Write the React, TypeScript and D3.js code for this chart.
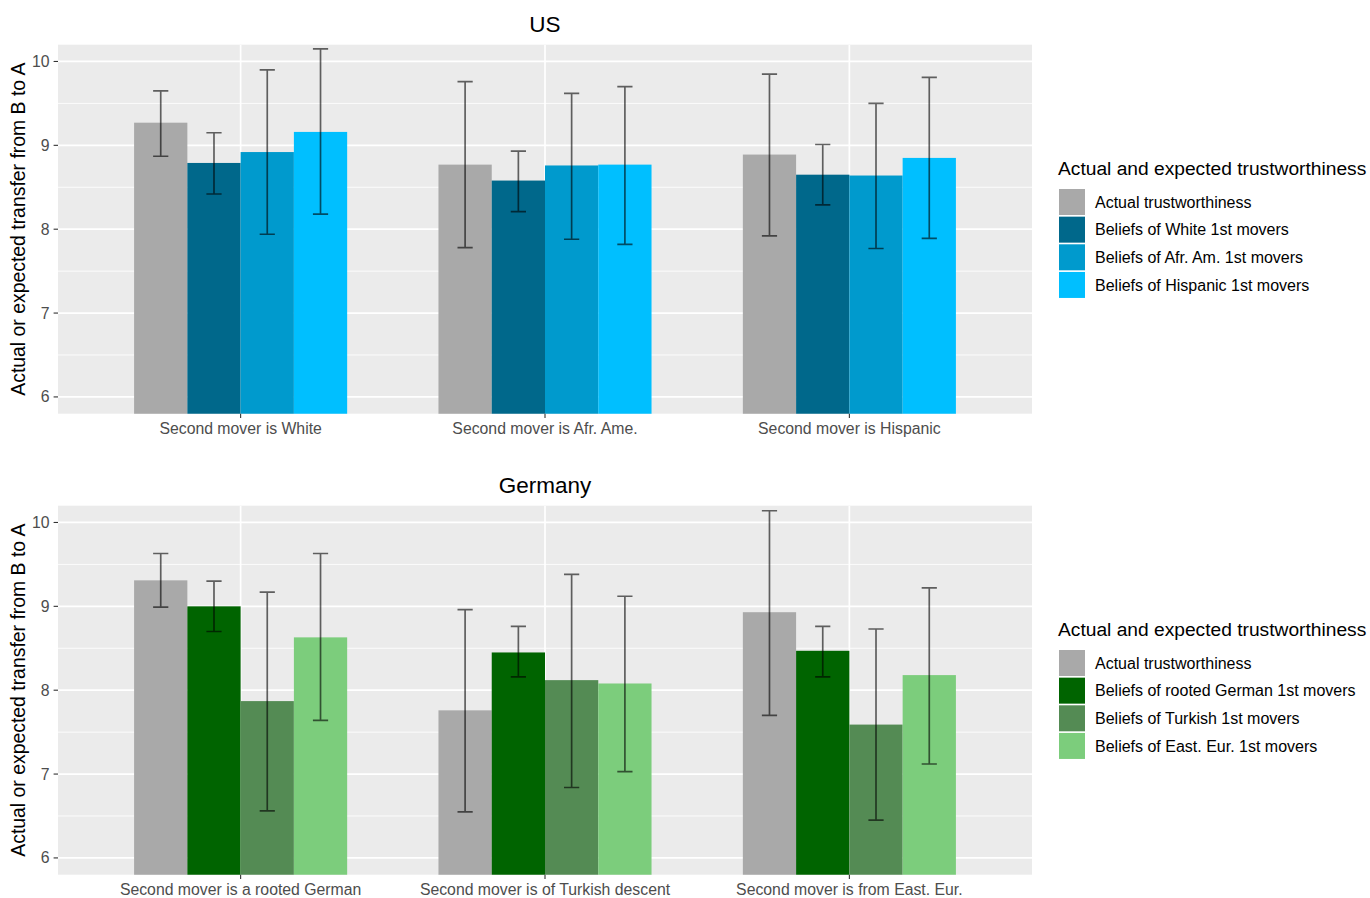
import React from "react";
import * as d3 from "d3";

// ---------- DATA ----------
const usCategories = ["Second mover is White", "Second mover is Afr. Ame.", "Second mover is Hispanic"];
const usSeries = ["Actual trustworthiness", "Beliefs of White 1st movers", "Beliefs of Afr. Am. 1st movers", "Beliefs of Hispanic 1st movers"];
const usColors = ["#A9A9A9", "#00688B", "#009ACD", "#00BFFF"];
const usActual = [9.27, 8.77, 8.89];
const usWhite = [8.79, 8.58, 8.65];
const usAfr = [8.92, 8.76, 8.64];
const usHisp = [9.16, 8.77, 8.85];
const usActualLo = [8.87, 7.78, 7.92];
const usActualHi = [9.65, 9.76, 9.85];
const usWhiteLo = [8.42, 8.21, 8.29];
const usWhiteHi = [9.15, 8.93, 9.01];
const usAfrLo = [7.94, 7.88, 7.77];
const usAfrHi = [9.9, 9.62, 9.5];
const usHispLo = [8.18, 7.82, 7.89];
const usHispHi = [10.15, 9.7, 9.81];

const deCategories = ["Second mover is a rooted German", "Second mover is of Turkish descent", "Second mover is from East. Eur."];
const deSeries = ["Actual trustworthiness", "Beliefs of rooted German 1st movers", "Beliefs of Turkish 1st movers", "Beliefs of East. Eur. 1st movers"];
const deColors = ["#A9A9A9", "#006400", "#548B54", "#7CCD7C"];
const deActual = [9.31, 7.76, 8.93];
const deGerman = [9.0, 8.45, 8.47];
const deTurk = [7.87, 8.12, 7.59];
const deEast = [8.63, 8.08, 8.18];
const deActualLo = [8.99, 6.55, 7.7];
const deActualHi = [9.63, 8.96, 10.14];
const deGermanLo = [8.7, 8.16, 8.16];
const deGermanHi = [9.3, 8.76, 8.76];
const deTurkLo = [6.56, 6.84, 6.45];
const deTurkHi = [9.17, 9.38, 8.73];
const deEastLo = [7.64, 7.03, 7.12];
const deEastHi = [9.63, 9.12, 9.22];

const yTicks = [6, 7, 8, 9, 10];
const yMinor = [6.5, 7.5, 8.5, 9.5];
const yLimits = [6, 10];

const yTitle = "Actual or expected transfer from B to A";
const legendTitle = "Actual and expected trustworthiness";

const FONT = "'Liberation Sans', Arial, Helvetica, sans-serif";

type PanelProps = {
  id: string;
  title: string;
  top: number;
  categories: string[];
  series: string[];
  colors: string[];
  means: number[][];
  lows: number[][];
  highs: number[][];
};

const PL = 58;
const PR = 1032;
const PH = 369;

function Panel({ id, title, top, categories, series, colors, means, lows, highs }: PanelProps) {
  const pTop = top;
  const pBot = top + PH;
  const pad = (yLimits[1] - yLimits[0]) * 0.05;
  const y = d3.scaleLinear().domain([yLimits[0] - pad, yLimits[1] + pad]).range([pBot, pTop]);
  const x = d3.scaleBand<string>().domain(categories).range([PL, PR]).paddingInner(0.3).paddingOuter(0.25);
  const xs = d3.scaleBand<string>().domain(series).range([0, x.bandwidth()]).padding(0);
  const capW = x.step() * 0.05;
  const legX = 1058;
  const legTitleY = top + 129.8;
  const keyTop = top + 144.3;
  const keyStep = 27.65;

  return (
    <g>
      <defs>
        <clipPath id={`clip-${id}`}>
          <rect x={PL} y={pTop} width={PR - PL} height={pBot - pTop} />
        </clipPath>
      </defs>
      <text x={(PL + PR) / 2} y={top - 13} textAnchor="middle" fontSize={22.5} fill="#000" fontFamily={FONT}>
        {title}
      </text>
      <rect x={PL} y={pTop} width={PR - PL} height={pBot - pTop} fill="#EBEBEB" />
      <g clipPath={`url(#clip-${id})`}>
        {yMinor.map((v) => (
          <line key={"mn" + v} x1={PL} x2={PR} y1={y(v)} y2={y(v)} stroke="#fff" strokeWidth={0.85} />
        ))}
        {yTicks.map((v) => (
          <line key={"mj" + v} x1={PL} x2={PR} y1={y(v)} y2={y(v)} stroke="#fff" strokeWidth={1.7} />
        ))}
        {categories.map((c) => (
          <line key={"vx" + c} x1={x(c)! + x.bandwidth() / 2} x2={x(c)! + x.bandwidth() / 2} y1={pTop} y2={pBot} stroke="#fff" strokeWidth={1.7} />
        ))}
        {series.map((s, si) =>
          categories.map((c, ci) => {
            const bx = x(c)! + xs(s)!;
            const v = means[si][ci];
            return (
              <rect key={s + c} x={bx} y={y(v)} width={xs.bandwidth()} height={y(0) - y(v)} fill={colors[si]} />
            );
          })
        )}
        {series.map((s, si) =>
          categories.map((c, ci) => {
            const cx = x(c)! + xs(s)! + xs.bandwidth() / 2;
            const lo = y(lows[si][ci]);
            const hi = y(highs[si][ci]);
            return (
              <g key={"e" + s + c} stroke="rgba(0,0,0,0.6)" strokeWidth={1.7} fill="none">
                <path d={`M${cx - capW / 2},${hi}H${cx + capW / 2}M${cx},${hi}V${lo}M${cx - capW / 2},${lo}H${cx + capW / 2}`} />
              </g>
            );
          })
        )}
      </g>
      {/* y axis */}
      {yTicks.map((v) => (
        <g key={"yt" + v}>
          <line x1={PL - 4.4} x2={PL} y1={y(v)} y2={y(v)} stroke="#333333" strokeWidth={1.1} />
          <text x={PL - 8.5} y={y(v)} dy="0.35em" textAnchor="end" fontSize={15.8} fill="#4D4D4D" fontFamily={FONT}>
            {v}
          </text>
        </g>
      ))}
      {/* x axis */}
      {categories.map((c) => (
        <g key={"xt" + c}>
          <line x1={x(c)! + x.bandwidth() / 2} x2={x(c)! + x.bandwidth() / 2} y1={pBot} y2={pBot + 4.4} stroke="#333333" strokeWidth={1.1} />
          <text x={x(c)! + x.bandwidth() / 2} y={pBot + 20} textAnchor="middle" fontSize={15.8} fill="#4D4D4D" fontFamily={FONT}>
            {c}
          </text>
        </g>
      ))}
      <text
        transform={`translate(24.5,${(pTop + pBot) / 2}) rotate(-90)`}
        textAnchor="middle"
        fontSize={19.4}
        fill="#000"
        fontFamily={FONT}
      >
        {yTitle}
      </text>
      {/* legend */}
      <text x={legX} y={legTitleY} fontSize={19.2} fill="#000" fontFamily={FONT}>
        {legendTitle}
      </text>
      {series.map((s, si) => (
        <g key={"lg" + s}>
          <rect x={1059} y={keyTop + si * keyStep} width={26} height={26} fill={colors[si]} />
          <text x={1095} y={keyTop + si * keyStep + 13} dy="0.36em" fontSize={16} fill="#000" fontFamily={FONT}>
            {s}
          </text>
        </g>
      ))}
    </g>
  );
}

export default function App() {
  return (
    <svg width={1370} height={898} style={{ position: "absolute", left: 0, top: 0, background: "#fff" }}>
      <rect x={0} y={0} width={1370} height={898} fill="#fff" />
      <Panel
        id="us"
        title="US"
        top={44.7}
        categories={usCategories}
        series={usSeries}
        colors={usColors}
        means={[usActual, usWhite, usAfr, usHisp]}
        lows={[usActualLo, usWhiteLo, usAfrLo, usHispLo]}
        highs={[usActualHi, usWhiteHi, usAfrHi, usHispHi]}
      />
      <Panel
        id="de"
        title="Germany"
        top={505.7}
        categories={deCategories}
        series={deSeries}
        colors={deColors}
        means={[deActual, deGerman, deTurk, deEast]}
        lows={[deActualLo, deGermanLo, deTurkLo, deEastLo]}
        highs={[deActualHi, deGermanHi, deTurkHi, deEastHi]}
      />
    </svg>
  );
}
